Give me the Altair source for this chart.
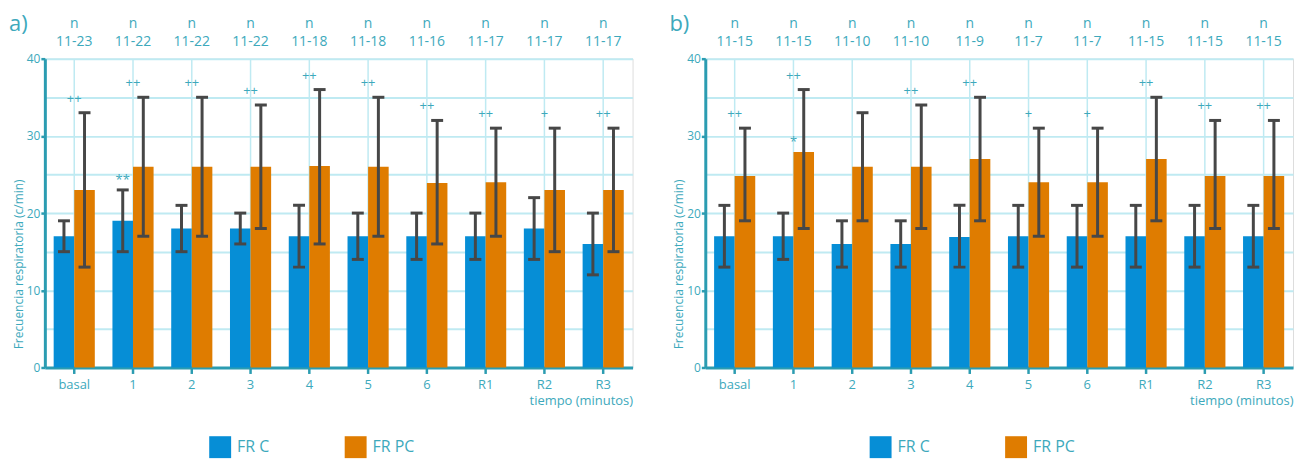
import altair as alt
import pandas as pd

# ---------------- data ----------------
cats = ["basal", "1", "2", "3", "4", "5", "6", "R1", "R2", "R3"]
series = ["FR C", "FR PC"]

# panel a
a_n = ["11-23", "11-22", "11-22", "11-22", "11-18", "11-18", "11-16", "11-17", "11-17", "11-17"]
a_c_mean = [17, 19, 18, 18, 17, 17, 17, 17, 18, 16]
a_c_lo = [15, 15, 15, 16, 13, 14, 14, 14, 14, 12]
a_c_hi = [19, 23, 21, 20, 21, 20, 20, 20, 22, 20]
a_pc_mean = [23, 26, 26, 26, 26.1, 26, 23.9, 24, 23, 23]
a_pc_lo = [13, 17, 17, 18, 16, 17, 16, 17, 15, 15]
a_pc_hi = [33, 35, 35, 34, 36, 35, 32, 31, 31, 31]
a_sig = ["++", "++", "++", "++", "++", "++", "++", "++", "+", "++"]
a_star_cat = ["1"]
a_star_serie = ["FR C"]
a_star_text = ["**"]
a_star_val = [23]

# panel b
b_n = ["11-15", "11-15", "11-10", "11-10", "11-9", "11-7", "11-7", "11-15", "11-15", "11-15"]
b_c_mean = [17, 17, 16, 16, 16.9, 17, 17, 17, 17, 17]
b_c_lo = [13, 14, 13, 13, 13, 13, 13, 13, 13, 13]
b_c_hi = [21, 20, 19, 19, 21, 21, 21, 21, 21, 21]
b_pc_mean = [24.8, 27.9, 26, 26, 27, 24, 24, 27, 24.8, 24.8]
b_pc_lo = [19, 18, 19, 18, 19, 17, 17, 19, 18, 18]
b_pc_hi = [31, 36, 33, 34, 35, 31, 31, 35, 32, 32]
b_sig = ["++", "++", "", "++", "++", "+", "+", "++", "++", "++"]
b_star_cat = ["1"]
b_star_serie = ["FR PC"]
b_star_text = ["*"]
b_star_val = [27.9]

# ---------------- style ----------------
BLUE = "#068ED6"
ORANGE = "#DF7C00"
TEAL = "#3DA9BC"
TEAL_AX = "#2B9CB1"
GRID = "#BFEAF2"
ERR = "#474747"
FONT = "Open Sans"
W, H = 590, 310


def panel(label, n_list, c_mean, c_lo, c_hi, pc_mean, pc_lo, pc_hi, sig,
          star_cat, star_serie, star_text, star_val):
    rows = []
    for i, c in enumerate(cats):
        rows.append({"cat": c, "serie": "FR C", "mean": c_mean[i], "lo": c_lo[i], "hi": c_hi[i]})
        rows.append({"cat": c, "serie": "FR PC", "mean": pc_mean[i], "lo": pc_lo[i], "hi": pc_hi[i]})
    df = pd.DataFrame(rows)
    top = pd.DataFrame({"cat": cats, "n": n_list, "nn": ["n"] * len(cats),
                        "sig": sig, "hi": pc_hi})
    star = pd.DataFrame({"cat": star_cat, "serie": star_serie, "txt": star_text, "v": star_val})
    lab = pd.DataFrame({"t": [label]})

    xax = alt.Axis(title="tiempo (minutos)", titleAnchor="end", titleAlign="right",
                   titleFontSize=13, titleFontWeight="normal", titleColor=TEAL, titleFont=FONT,
                   titlePadding=3, labelAngle=0, labelFontSize=13, labelColor=TEAL, labelFont=FONT,
                   labelPadding=5, tickSize=6, tickWidth=2.5, tickColor=TEAL_AX,
                   domainColor=TEAL_AX, domainWidth=3, grid=True, gridColor=GRID,
                   gridWidth=1.5, bandPosition=0.5)
    x = alt.X("cat:N", sort=cats, axis=xax,
              scale=alt.Scale(paddingInner=0.3, paddingOuter=0.15))
    xo = alt.XOffset("serie:N", sort=series, scale=alt.Scale(paddingInner=0, paddingOuter=0))

    yax = alt.Axis(title="Frecuencia respiratoria (c/min)", titleFontSize=12,
                   titleFontWeight="normal", titleColor=TEAL, titleFont=FONT, titlePadding=1,
                   titleY=206,
                   values=[0, 5, 10, 15, 20, 25, 30, 35, 40],
                   labelExpr="datum.value % 10 == 0 ? datum.label : ''",
                   tickOpacity={"condition": {"test": "datum.value % 10 == 0", "value": 1}, "value": 0},
                   labelFontSize=12, labelColor=TEAL, labelFont=FONT, labelPadding=1,
                   tickSize=4, tickWidth=2.5, tickColor=TEAL_AX, domainColor=TEAL_AX,
                   domainWidth=3, grid=True, gridColor=GRID, gridWidth=2)
    ysc = alt.Scale(domain=[0, 40], nice=False)

    def Y(f):
        return alt.Y(f, type="quantitative", scale=ysc, axis=yax)

    color = alt.Color("serie:N", sort=series,
                      scale=alt.Scale(domain=series, range=[BLUE, ORANGE]),
                      legend=alt.Legend(title=None, orient="none", legendX=165, legendY=379,
                                        direction="horizontal", symbolType="square",
                                        symbolSize=484, symbolStrokeWidth=0, symbolOpacity=1,
                                        labelFontSize=16, labelColor=TEAL, labelFont=FONT,
                                        labelOffset=6, columnPadding=75, padding=0))

    base = alt.Chart(df)
    bars = base.mark_bar().encode(x=x, xOffset=xo, y=Y("mean"), color=color)
    rule = base.mark_rule(color=ERR, strokeWidth=3).encode(x=x, xOffset=xo, y=Y("lo"), y2="hi:Q")
    cap_lo = base.mark_tick(color=ERR, thickness=3, size=12, opacity=1).encode(x=x, xOffset=xo, y=Y("lo"))
    cap_hi = base.mark_tick(color=ERR, thickness=3, size=12, opacity=1).encode(x=x, xOffset=xo, y=Y("hi"))

    tb = alt.Chart(top)
    sig_t = tb.mark_text(color=TEAL, font=FONT, fontSize=13, dy=-14).encode(x=x, y=Y("hi"), text="sig:N")
    n_t = tb.mark_text(color=TEAL, font=FONT, fontSize=14, baseline="alphabetic").encode(
        x=x, y=alt.value(-13), text="n:N")
    nn_t = tb.mark_text(color=TEAL, font=FONT, fontSize=14, baseline="alphabetic").encode(
        x=x, y=alt.value(-31), text="nn:N")

    st = alt.Chart(star)
    if star_serie[0] == "FR C":
        star_t = st.mark_text(color=TEAL, font=FONT, fontSize=13, dy=-10).encode(
            x=x, xOffset=alt.XOffset("serie:N", sort=series, scale=alt.Scale(paddingInner=0, paddingOuter=0)),
            y=Y("v"), text="txt:N")
    else:
        star_t = st.mark_text(color=TEAL, font=FONT, fontSize=13, dy=-10).encode(
            x=x, y=Y("v"), text="txt:N")

    lab_t = alt.Chart(lab).mark_text(color=TEAL, font=FONT, fontSize=22, align="left",
                                     baseline="alphabetic").encode(
        x=alt.value(-36), y=alt.value(-28), text="t:N")

    return alt.layer(bars, rule, cap_lo, cap_hi, sig_t, star_t, n_t, nn_t, lab_t).properties(
        width=W, height=H)


pa = panel("a)", a_n, a_c_mean, a_c_lo, a_c_hi, a_pc_mean, a_pc_lo, a_pc_hi, a_sig,
           a_star_cat, a_star_serie, a_star_text, a_star_val)
pb = panel("b)", b_n, b_c_mean, b_c_lo, b_c_hi, b_pc_mean, b_pc_lo, b_pc_hi, b_sig,
           b_star_cat, b_star_serie, b_star_text, b_star_val)

chart = alt.hconcat(pa, pb, spacing=35).resolve_scale(
    color="independent", x="independent", y="independent", xOffset="independent"
).properties(
    padding={"left": 0, "top": 3, "right": 0, "bottom": 0}
).configure_view(stroke=None).configure(font=FONT, background="white")

chart.save("out.html", embed_options={"renderer": "svg", "actions": False})
